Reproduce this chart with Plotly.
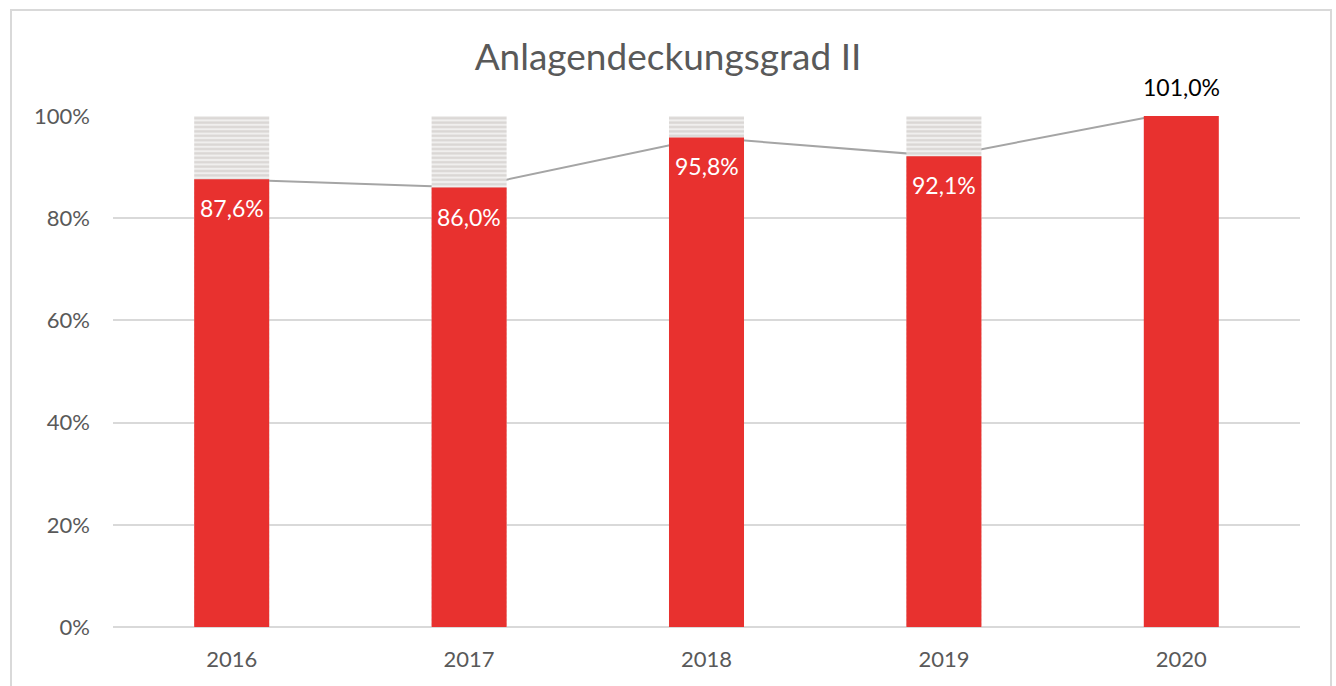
import plotly.graph_objects as go

years = ["2016", "2017", "2018", "2019", "2020"]
values = [0.876, 0.860, 0.958, 0.921, 1.010]
target = [1.0, 1.0, 1.0, 1.0, 0.0]
label_shift = [-29, -29, -29, -29, 29]
label_col = ["white", "white", "white", "white", "black"]

FONT = "Lato"
GREY = "#595959"
YMAX = 1.0

fig = go.Figure()

# line (behind bars) on main axes
fig.add_trace(go.Scatter(
    x=years, y=values, mode="lines",
    line=dict(color="#a5a5a5", width=2),
    xaxis="x", yaxis="y", hoverinfo="skip", showlegend=False,
))

# striped remainder bars
fig.add_trace(go.Bar(
    x=years, y=target, xaxis="x2", yaxis="y2",
    marker=dict(color="#efeeed",
                pattern=dict(shape="-", size=4.4, solidity=0.5,
                             fgcolor="#c2beba", bgcolor="#f0efee"),
                line=dict(width=0)),
    hoverinfo="skip", showlegend=False,
))

# red bars
fig.add_trace(go.Bar(
    x=years, y=values, xaxis="x2", yaxis="y2",
    marker=dict(color="#E8312F", line=dict(width=0)),
    hoverinfo="skip", showlegend=False,
))

annotations = []
for i, (v, s, c) in enumerate(zip(values, label_shift, label_col)):
    annotations.append(dict(
        x=i, y=min(v, YMAX), xref="x2", yref="y2", showarrow=False,
        text=f"{v * 100:.1f}%".replace(".", ","),
        yshift=s, yanchor="middle", xanchor="center",
        font=dict(family=FONT, size=23, color=c),
    ))

xr = [-0.5, len(years) - 0.5]

fig.update_layout(
    width=1336, height=686,
    margin=dict(l=113, r=36, t=116, b=59),
    paper_bgcolor="white", plot_bgcolor="white",
    barmode="overlay", bargap=0.684,
    title=dict(text="Anlagendeckungsgrad II", x=0.5, xanchor="center",
               y=1 - 57 / 686, yref="container", yanchor="middle",
               font=dict(family=FONT, size=37, color=GREY)),
    font=dict(family=FONT, size=22, color=GREY),
    xaxis=dict(type="category", categoryorder="array", categoryarray=years,
               range=xr, autorange=False,
               showgrid=False, showline=False, zeroline=False,
               tickfont=dict(family=FONT, size=22, color=GREY),
               ticks="", ticklabelstandoff=17),
    yaxis=dict(range=[0, YMAX], dtick=0.2, tickformat=".0%",
               showgrid=True, gridcolor="#d9d9d9", gridwidth=1.5,
               zeroline=True, zerolinecolor="#d9d9d9", zerolinewidth=2,
               showline=False, ticks="",
               tickfont=dict(family=FONT, size=22, color=GREY),
               ticklabelstandoff=22),
    xaxis2=dict(type="category", categoryorder="array", categoryarray=years,
                range=xr, autorange=False,
                overlaying="x", visible=False),
    yaxis2=dict(range=[0, YMAX], overlaying="y", visible=False),
    annotations=annotations,
    shapes=[dict(type="rect", xref="paper", yref="paper",
                 x0=(11 - 113) / 1187, x1=(1331 - 113) / 1187,
                 y0=-(700 - 627) / 511, y1=1 + (116 - 10) / 511,
                 line=dict(color="#d9d9d9", width=2), layer="below")],
)

fig.write_html("out.html", config={"displayModeBar": False},
               post_script="document.body.style.margin='0';")
